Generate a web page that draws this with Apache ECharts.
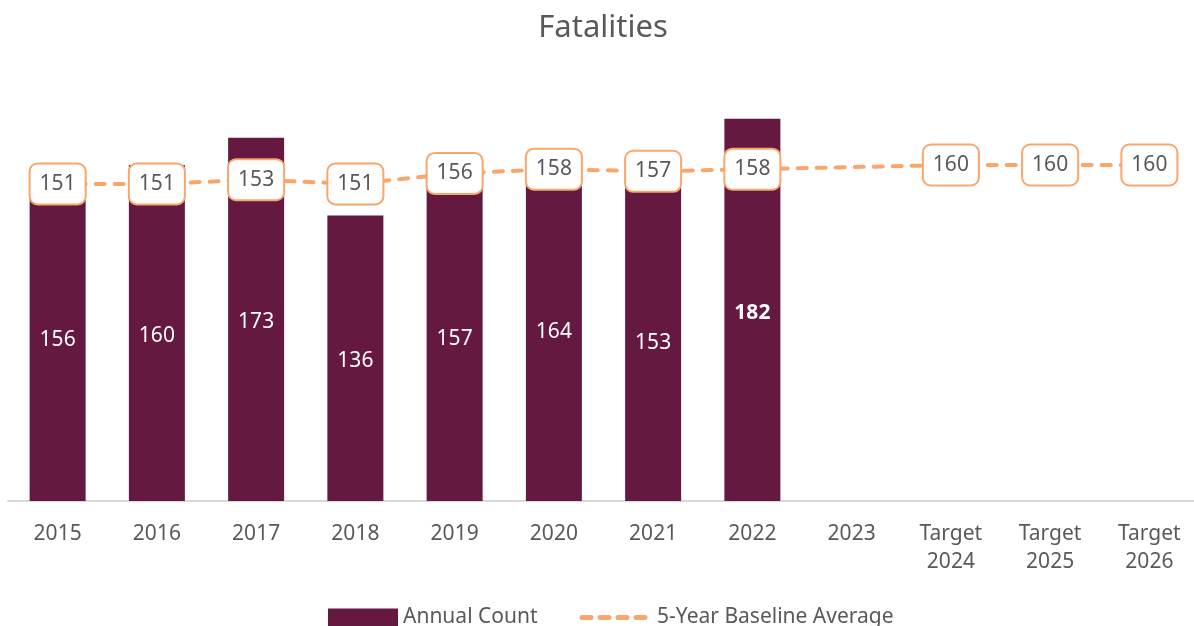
<!DOCTYPE html>
<html>
<head>
<meta charset="utf-8">
<title>Fatalities</title>
<script src="https://cdn.jsdelivr.net/npm/echarts@6/dist/echarts.min.js"></script>
<style>
  html, body { margin: 0; padding: 0; background: #ffffff; overflow: hidden; }
  #chart { width: 1206px; height: 626px; }
</style>
</head>
<body>
<div id="chart"></div>
<script>
// Category labels along the x axis
const categories = ['2015', '2016', '2017', '2018', '2019', '2020', '2021', '2022', '2023',
  'Target\n2024', 'Target\n2025', 'Target\n2026'];

// Annual fatality counts (no counts yet for 2023 onward)
const annualCount = [156, 160, 173, 136, 157, 164, 153, 182, null, null, null, null];

// Five-year rolling baseline average and targets
const baselineAverage = [151, 151, 153, 151, 156, 158, 157, 158, 159, 160, 160, 160];

// Points on the baseline line that carry a value box
const baselineLabelled = [true, true, true, true, true, true, true, true, false, true, true, true];

// Index of the most recent year, whose count is emphasised
const latestIndex = 7;

const FONT = '"Noto Sans", "Open Sans", sans-serif';
const TEXT = '#595959';
const BAR = '#651840';
const LINE = '#F9A66C';

const chart = echarts.init(document.getElementById('chart'));

chart.setOption({
  animation: false,
  textStyle: { fontFamily: FONT },
  title: {
    text: 'Fatalities',
    left: 'center',
    top: 8,
    textStyle: { fontFamily: FONT, fontSize: 31, fontWeight: 'normal', color: TEXT }
  },
  legend: {
    bottom: -7,
    left: 323,
    itemGap: 42,
    itemWidth: 70,
    itemHeight: 18,
    textStyle: { fontFamily: FONT, fontSize: 21, color: TEXT },
    data: [
      { name: 'Annual Count', icon: 'rect' },
      {
        name: '5-Year Baseline Average',
        itemStyle: { opacity: 0 },
        lineStyle: { width: 5, type: [9, 9], cap: 'round', color: LINE }
      }
    ]
  },
  grid: {
    left: 8,
    top: 81,
    width: 1191,
    height: 420,
    containLabel: false
  },
  xAxis: {
    type: 'category',
    data: categories,
    axisLine: { show: true, lineStyle: { color: '#D9D9D9', width: 2 } },
    axisTick: { show: false },
    axisLabel: {
      color: TEXT,
      fontFamily: FONT,
      fontSize: 21,
      lineHeight: 28,
      margin: 19,
      interval: 0
    }
  },
  yAxis: {
    type: 'value',
    min: 0,
    max: 200,
    show: false,
    splitLine: { show: false }
  },
  series: [
    {
      name: 'Annual Count',
      type: 'bar',
      barWidth: 56,
      itemStyle: { color: BAR },
      data: annualCount.map((v, i) => ({
        value: v,
        label: i === latestIndex ? { fontWeight: 'bold' } : undefined
      })),
      label: {
        show: true,
        position: 'inside',
        offset: [0, 3],
        color: '#ffffff',
        fontFamily: FONT,
        fontSize: 21
      },
      z: 2
    },
    {
      name: '5-Year Baseline Average',
      type: 'line',
      symbol: 'circle',
      symbolSize: 1,
      itemStyle: { color: LINE },
      lineStyle: { color: LINE, width: 4, type: [9, 10], cap: 'round' },
      data: baselineAverage.map((v, i) => ({
        value: v,
        label: { show: baselineLabelled[i] }
      })),
      label: {
        position: 'inside',
        color: TEXT,
        fontFamily: FONT,
        fontSize: 21,
        backgroundColor: '#ffffff',
        borderColor: LINE,
        borderWidth: 2,
        borderRadius: 7,
        padding: [9, 9, 9, 9]
      },
      z: 3
    }
  ]
});
</script>
</body>
</html>
